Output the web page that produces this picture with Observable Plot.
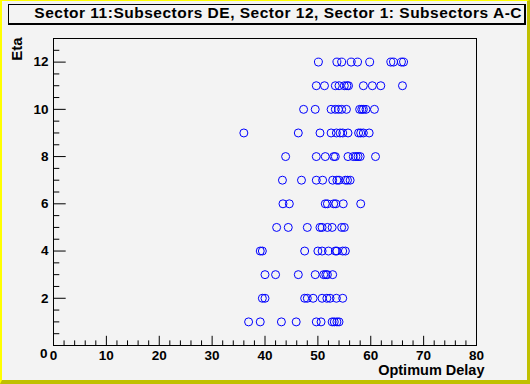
<!DOCTYPE html>
<html><head><meta charset="utf-8">
<script src="https://cdn.jsdelivr.net/npm/d3@7"></script>
<script src="https://cdn.jsdelivr.net/npm/@observablehq/plot@0.6"></script>
<style>
html,body{margin:0;padding:0;background:#f3f3f3;}
#wrap{position:relative;width:530px;height:384px;overflow:hidden;background:#f3f3f3;}
#wrap svg{position:absolute;left:0;top:0;display:block;}
#border{position:absolute;left:0;top:0;width:530px;height:384px;box-sizing:border-box;border-style:solid;border-width:1px 3px 4px 2px;border-color:#ffff00 #c0c000 #c0c000 #ffff00;pointer-events:none;}
#title{position:absolute;left:8px;top:4px;width:518px;height:21px;box-sizing:border-box;border-style:solid;border-color:#000;border-width:1px 2px 2px 1px;background:#f3f3f3;}
#title span{position:absolute;right:2px;top:-1px;line-height:17px;white-space:nowrap;font:bold 15.5px "Liberation Sans",Arial,Helvetica,sans-serif;letter-spacing:0.5px;color:#000;}
</style>
</head><body>
<div id="wrap"></div>
<script>
// Data: Optimum Delay values per Eta row
const eta1  = [36.9, 39.1, 43.1, 45.9, 49.7, 50.6, 52.7, 53.1, 53.6, 54.0];
const eta2  = [39.5, 40.0, 47.5, 48.0, 49.1, 50.8, 51.7, 52.3, 53.5, 54.7];
const eta3  = [40.0, 42.0, 46.3, 49.5, 51.1, 51.5, 51.8, 52.8];
const eta4  = [39.1, 39.5, 47.5, 50.0, 50.8, 52.0, 53.3, 53.6, 54.7, 55.2];
const eta5  = [42.2, 44.4, 48.0, 50.4, 50.8, 51.8, 52.7, 54.5, 55.0];
const eta6  = [43.4, 44.6, 51.4, 51.8, 53.0, 53.4, 54.8, 58.1];
const eta7  = [43.3, 46.9, 49.7, 50.9, 52.8, 53.6, 54.0, 55.2, 55.6, 56.1];
const eta8  = [43.9, 49.7, 51.4, 53.0, 53.3, 55.7, 56.7, 57.2, 57.6, 58.0, 60.9];
const eta9  = [36.0, 46.3, 50.4, 52.5, 53.5, 54.2, 54.7, 55.7, 57.7, 58.1, 58.6, 59.7];
const eta10 = [47.3, 49.5, 52.5, 53.3, 53.9, 54.5, 55.4, 57.9, 58.3, 58.6, 59.1, 60.7];
const eta11 = [49.7, 51.25, 53.3, 54.0, 55.0, 55.5, 55.8, 58.6, 60.3, 61.9, 66.0];
const eta12 = [50.1, 53.6, 54.5, 56.3, 57.5, 59.8, 63.8, 64.3, 65.8, 66.2];

const titleText = "Sector 11:Subsectors DE, Sector 12, Sector 1: Subsectors A-C";
const xLabel = "Optimum Delay";
const yLabel = "Eta";
const xMajor = [0, 10, 20, 30, 40, 50, 60, 70, 80];
const xMinor = d3.range(2, 80, 2).filter(v => v % 10 !== 0);
const yMajor = [0, 2, 4, 6, 8, 10, 12];
const yLabelTicks = [2, 4, 6, 8, 10, 12];
const yMinor = d3.range(0.5, 13, 0.5).filter(v => v % 2 !== 0);

const rows = [eta1, eta2, eta3, eta4, eta5, eta6, eta7, eta8, eta9, eta10, eta11, eta12];
const points = rows.flatMap((vals, i) => vals.map(v => ({delay: v, eta: i + 1})));

const W = 530, H = 384;
const mL = 53, mR = 54, mT = 38, mB = 39;
const fw = W - mL - mR, fh = H - mT - mB;
const font = '"Liberation Sans", Arial, Helvetica, sans-serif';

const chart = Plot.plot({
  width: W, height: H,
  marginLeft: mL, marginRight: mR, marginTop: mT, marginBottom: mB,
  style: {background: "#f3f3f3", color: "black", fontFamily: font, fontSize: "14px", fontWeight: "bold", overflow: "visible"},
  x: {domain: [0, 80]},
  y: {domain: [0, 13]},
  marks: [
    Plot.frame({stroke: "black"}),
    Plot.tickX(xMajor, {x: d => d, insetTop: fh - 9.2, stroke: "black"}),
    Plot.tickX(xMinor, {x: d => d, insetTop: fh - 4.6, stroke: "black"}),
    Plot.tickY(yMajor, {y: d => d, insetRight: fw - 12.7, stroke: "black"}),
    Plot.tickY(yMinor, {y: d => d, insetRight: fw - 6.3, stroke: "black"}),
    Plot.axisX({ticks: xMajor, tickSize: 0, tickPadding: 4.5, label: null, tickFormat: d => String(d), fontSize: 13.5}),
    Plot.axisY({ticks: yLabelTicks, tickSize: 0, tickPadding: 5, label: null, tickFormat: d => String(d), fontSize: 13.5}),
    Plot.text([0], {y: d => d, frameAnchor: "left", text: d => String(d), textAnchor: "end", dx: -6, dy: 8, fontSize: 13.5}),
    Plot.text([xLabel], {frameAnchor: "bottom-right", text: d => d, textAnchor: "end", lineAnchor: "bottom", dx: 8, dy: 29, fontSize: 14.5}),
    Plot.text([yLabel], {frameAnchor: "top-left", text: d => d, rotate: -90, textAnchor: "end", lineAnchor: "bottom", dx: -32, dy: -1, fontSize: 15}),
    Plot.dot(points, {x: "delay", y: "eta", r: 4, stroke: "#0000ff", fill: "none", strokeWidth: 1})
  ]
});

const wrap = document.getElementById("wrap");
wrap.appendChild(chart);
const tb = document.createElement("div");
tb.id = "title";
const sp = document.createElement("span");
sp.textContent = titleText;
tb.appendChild(sp);
wrap.appendChild(tb);
const bd = document.createElement("div");
bd.id = "border";
wrap.appendChild(bd);
</script>
</body></html>
